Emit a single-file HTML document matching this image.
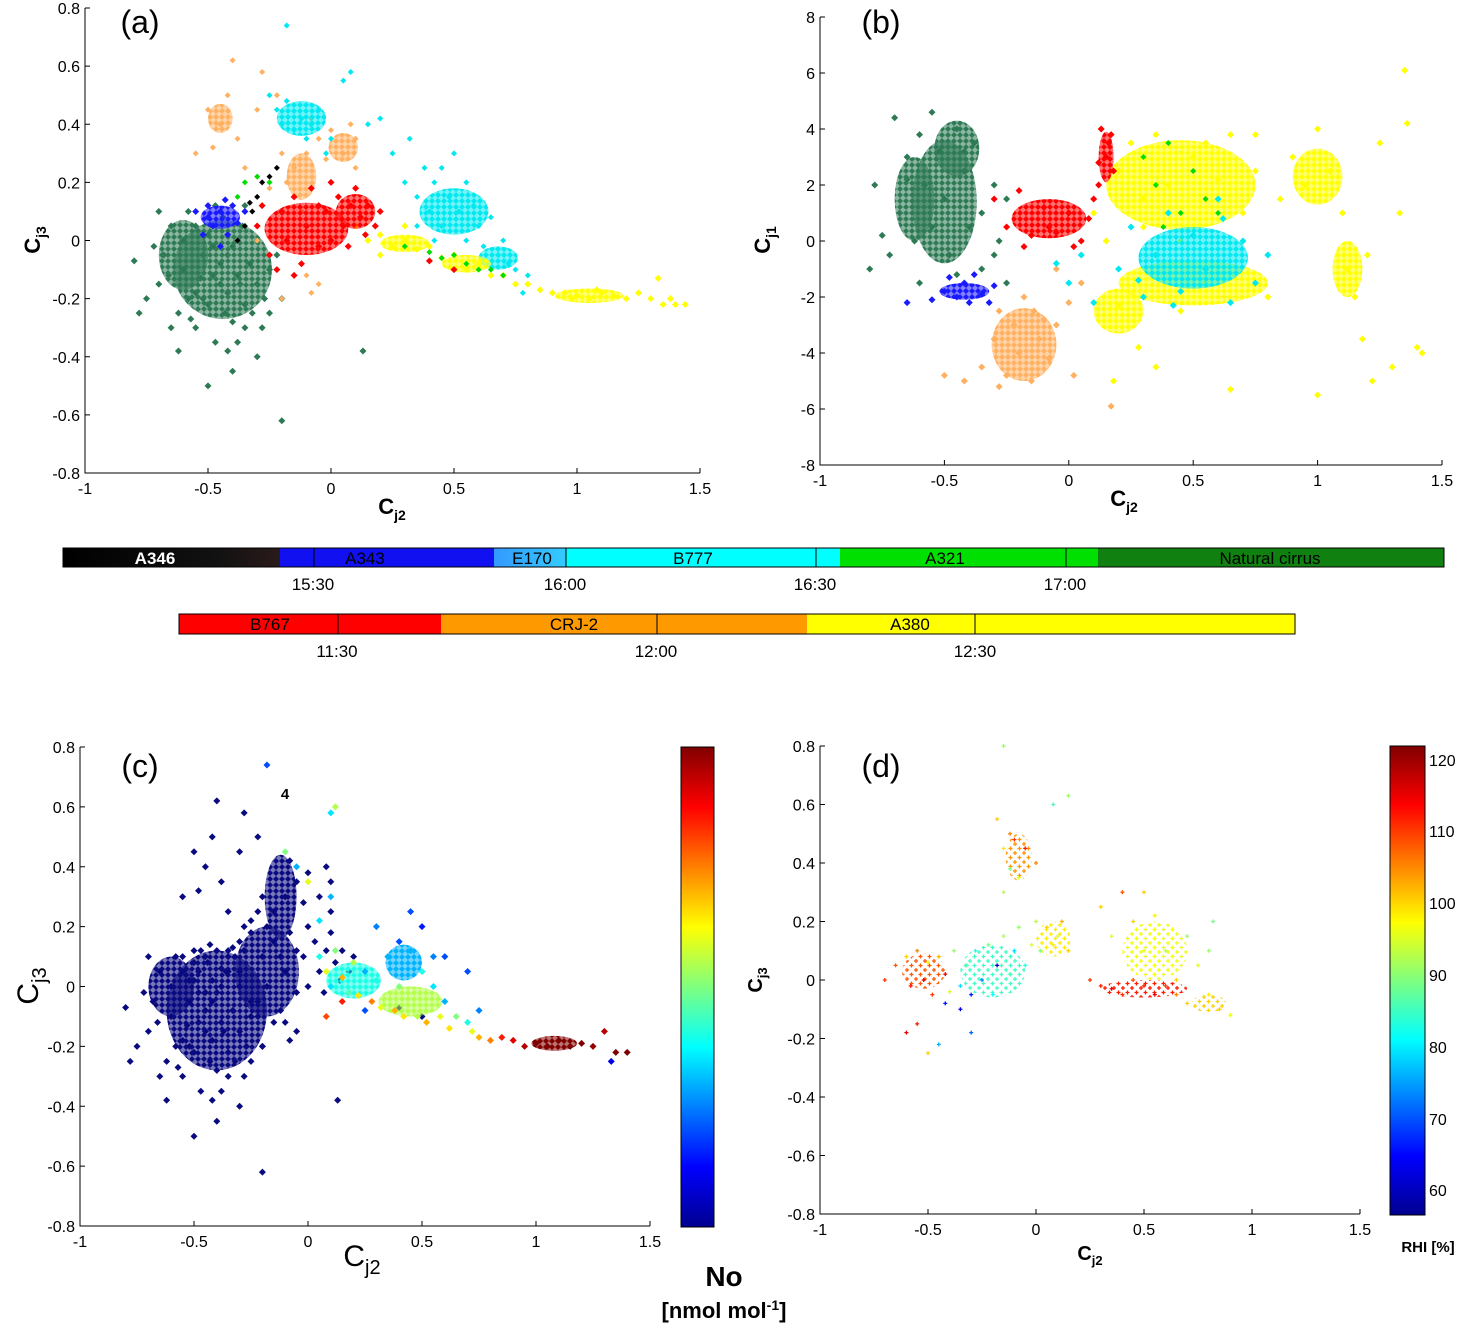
<!DOCTYPE html>
<html><head><meta charset="utf-8">
<style>
body{margin:0;background:#fff;}
svg text{font-family:"Liberation Sans",sans-serif;}
</style></head>
<body>
<svg id="root" width="1459" height="1326" viewBox="0 0 1459 1326" xmlns="http://www.w3.org/2000/svg">
<defs id="defs">
<linearGradient id="jet" x1="0" y1="1" x2="0" y2="0">
<stop offset="0" stop-color="#00008f"/><stop offset="0.125" stop-color="#0000ff"/>
<stop offset="0.375" stop-color="#00ffff"/><stop offset="0.625" stop-color="#ffff00"/>
<stop offset="0.875" stop-color="#ff0000"/><stop offset="1" stop-color="#800000"/>
</linearGradient>
<linearGradient id="g346" x1="0" x2="1"><stop offset="0" stop-color="#000"/><stop offset="0.7" stop-color="#111"/><stop offset="1" stop-color="#2a1a1a"/></linearGradient>
<linearGradient id="g170" x1="0" x2="1"><stop offset="0" stop-color="#3399ff"/><stop offset="1" stop-color="#33ccff"/></linearGradient>
</defs>
<g id="plots"></g>
<g font-size="17">
<rect x="63" y="548" width="217" height="19" fill="url(#g346)"/>
<rect x="280" y="548" width="214" height="19" fill="#1010f0"/>
<rect x="494" y="548" width="72" height="19" fill="url(#g170)"/>
<rect x="566" y="548" width="274" height="19" fill="#00ffff"/>
<rect x="840" y="548" width="258" height="19" fill="#00e000"/>
<rect x="1098" y="548" width="346" height="19" fill="#108010"/>
<rect x="63" y="548" width="1381" height="19" fill="none" stroke="#000"/>
<line x1="314" y1="548" x2="314" y2="567" stroke="#000"/><line x1="566" y1="548" x2="566" y2="567" stroke="#000"/>
<line x1="816" y1="548" x2="816" y2="567" stroke="#000"/><line x1="1066" y1="548" x2="1066" y2="567" stroke="#000"/>
<text x="155" y="564" text-anchor="middle" fill="#fff" font-weight="bold">A346</text>
<text x="365" y="564" text-anchor="middle" fill="#000">A343</text>
<text x="532" y="564" text-anchor="middle">E170</text>
<text x="693" y="564" text-anchor="middle">B777</text>
<text x="945" y="564" text-anchor="middle">A321</text>
<text x="1270" y="564" text-anchor="middle">Natural cirrus</text>
<text x="313" y="590" text-anchor="middle">15:30</text><text x="565" y="590" text-anchor="middle">16:00</text>
<text x="815" y="590" text-anchor="middle">16:30</text><text x="1065" y="590" text-anchor="middle">17:00</text>
</g>
<g font-size="17">
<rect x="179" y="614" width="262" height="20" fill="#ff0000"/>
<rect x="441" y="614" width="366" height="20" fill="#ff9900"/>
<rect x="807" y="614" width="488" height="20" fill="#ffff00"/>
<rect x="179" y="614" width="1116" height="20" fill="none" stroke="#000"/>
<line x1="338" y1="614" x2="338" y2="634" stroke="#000"/><line x1="657" y1="614" x2="657" y2="634" stroke="#000"/><line x1="975" y1="614" x2="975" y2="634" stroke="#000"/>
<text x="270" y="630" text-anchor="middle">B767</text><text x="574" y="630" text-anchor="middle">CRJ-2</text><text x="910" y="630" text-anchor="middle">A380</text>
<text x="337" y="657" text-anchor="middle">11:30</text><text x="656" y="657" text-anchor="middle">12:00</text><text x="975" y="657" text-anchor="middle">12:30</text>
</g>
<g>
<rect x="681" y="747" width="33" height="480" fill="url(#jet)" stroke="#000"/>
<text x="724" y="1286" text-anchor="middle" font-size="28" font-weight="bold">No</text>
<text x="724" y="1318" text-anchor="middle" font-size="22" font-weight="bold">[nmol mol<tspan dy="-8" font-size="14">-1</tspan><tspan dy="8">]</tspan></text>
</g>
<g font-size="16">
<rect x="1390" y="746" width="35" height="469" fill="url(#jet)" stroke="#000"/>
<text x="1429" y="766">120</text><text x="1429" y="837">110</text><text x="1429" y="909">100</text>
<text x="1429" y="981">90</text><text x="1429" y="1053">80</text><text x="1429" y="1125">70</text><text x="1429" y="1196">60</text>
<text x="1428" y="1252" text-anchor="middle" font-weight="bold" font-size="15">RHI [%]</text>
</g>
<script>
// ---------- data ----------
const xTicks=[-1,-0.5,0,0.5,1,1.5];
const xTickLabels=["-1","-0.5","0","0.5","1","1.5"];
const yTicksSmall=[0.8,0.6,0.4,0.2,0,-0.2,-0.4,-0.6,-0.8];
const yTickLabelsSmall=["0.8","0.6","0.4","0.2","0","-0.2","-0.4","-0.6","-0.8"];
const yTicksB=[8,6,4,2,0,-2,-4,-6,-8];
const yTickLabelsB=["8","6","4","2","0","-2","-4","-6","-8"];

const a_green=[[-0.8,-0.07],[-0.75,-0.2],[-0.7,-0.15],[-0.68,-0.05],[-0.65,0.05],[-0.62,-0.25],[-0.6,-0.1],[-0.58,0.1],[-0.55,-0.3],[-0.55,-0.18],[-0.52,-0.05],[-0.5,0.02],[-0.5,-0.22],[-0.48,-0.12],[-0.47,-0.35],[-0.45,-0.08],[-0.44,0.08],[-0.42,-0.18],[-0.4,-0.02],[-0.4,-0.28],[-0.38,-0.12],[-0.36,0.05],[-0.35,-0.22],[-0.33,-0.08],[-0.3,-0.15],[-0.3,0.0],[-0.28,-0.3],[-0.25,-0.1],[-0.22,-0.05],[-0.2,-0.2],[-0.62,-0.38],[-0.5,-0.5],[-0.4,-0.45],[-0.2,-0.62],[0.13,-0.38],[-0.7,0.1],[-0.65,-0.3],[-0.58,-0.2],[-0.53,-0.13],[-0.47,0.12],[-0.43,-0.25],[-0.38,-0.35],[-0.35,0.12],[-0.32,-0.25],[-0.27,-0.2],[-0.6,0.0],[-0.55,0.05],[-0.45,-0.15],[-0.42,-0.05],[-0.37,-0.15],[-0.48,-0.02],[-0.52,-0.2],[-0.42,-0.38],[-0.3,-0.4],[-0.78,-0.25],[-0.72,-0.02],[-0.66,-0.12],[-0.25,-0.25],[-0.35,-0.3],[-0.57,-0.27]];
const a_greenCores=[[-0.44,-0.1,0.2,0.17],[-0.6,-0.05,0.1,0.12]];
const a_blue=[[-0.55,0.1],[-0.5,0.12],[-0.48,0.05],[-0.45,0.1],[-0.42,0.02],[-0.4,0.12],[-0.52,0.02],[-0.45,-0.02],[-0.38,0.06],[-0.43,0.14],[-0.35,0.1],[-0.5,0.08]];
const a_blueCores=[[-0.45,0.08,0.08,0.04]];
const a_black=[[-0.35,0.05],[-0.32,0.1],[-0.3,0.15],[-0.28,0.2],[-0.25,0.22],[-0.22,0.25],[-0.38,0.0],[-0.33,0.13]];
const a_red=[[-0.3,0.05],[-0.25,-0.05],[-0.2,0.1],[-0.18,0.0],[-0.15,0.15],[-0.12,-0.08],[-0.1,0.05],[-0.08,0.18],[-0.05,-0.02],[-0.02,0.1],[0.0,0.0],[0.03,0.15],[0.05,0.05],[0.08,0.12],[0.1,0.18],[0.12,0.08],[0.15,0.12],[0.18,0.05],[0.2,0.1],[-0.22,-0.1],[-0.28,0.12],[-0.05,0.12],[0.07,-0.02],[0.14,0.02],[0.4,-0.07],[0.5,-0.1],[-0.15,-0.12],[0.0,0.2]];
const a_redCores=[[-0.1,0.04,0.17,0.09],[0.1,0.1,0.08,0.06]];
const a_orange=[[-0.5,0.45],[-0.45,0.4],[-0.48,0.32],[-0.42,0.5],[-0.38,0.35],[-0.4,0.62],[-0.55,0.3],[-0.3,0.45],[-0.35,0.25],[-0.2,0.3],[-0.18,0.2],[-0.15,0.25],[-0.1,0.3],[-0.05,0.35],[-0.02,0.28],[0.0,0.38],[0.05,0.3],[0.08,0.4],[0.1,0.25],[-0.25,0.18],[-0.12,0.1],[-0.1,-0.12],[-0.08,-0.18],[-0.05,-0.15],[-0.2,-0.2],[-0.3,0.0],[0.1,0.35],[-0.28,0.58],[-0.22,0.5],[-0.08,0.42]];
const a_orangeCores=[[-0.45,0.42,0.05,0.05],[-0.12,0.22,0.06,0.08],[0.05,0.32,0.06,0.05]];
const a_cyan=[[-0.25,0.5],[-0.22,0.45],[-0.2,0.4],[-0.18,0.48],[-0.15,0.38],[-0.12,0.42],[-0.1,0.35],[-0.08,0.4],[-0.05,0.45],[-0.02,0.3],[0.0,0.35],[0.05,0.55],[0.08,0.58],[0.15,0.4],[-0.18,0.74],[0.25,0.3],[0.3,0.2],[0.35,0.15],[0.38,0.25],[0.4,0.1],[0.42,0.2],[0.45,0.05],[0.48,0.15],[0.5,0.3],[0.52,0.1],[0.55,0.0],[0.58,0.12],[0.6,0.05],[0.62,-0.02],[0.65,0.08],[0.68,-0.05],[0.7,0.0],[0.72,-0.08],[0.75,-0.1],[0.8,-0.12],[0.45,0.25],[0.42,0.0],[0.35,0.05],[0.55,0.2],[0.32,0.35],[0.55,-0.08],[0.65,-0.12],[0.78,-0.18],[0.2,0.42]];
const a_cyanCores=[[0.5,0.1,0.14,0.08],[-0.12,0.42,0.1,0.06],[0.68,-0.06,0.08,0.04]];
const a_yellow=[[0.1,0.05],[0.15,0.0],[0.2,0.02],[0.25,-0.02],[0.3,0.0],[0.35,-0.03],[0.4,-0.02],[0.45,-0.06],[0.5,-0.05],[0.55,-0.1],[0.6,-0.08],[0.65,-0.12],[0.7,-0.12],[0.75,-0.15],[0.8,-0.15],[0.85,-0.17],[0.9,-0.18],[0.95,-0.18],[1.0,-0.19],[1.05,-0.2],[1.1,-0.18],[1.15,-0.19],[1.2,-0.2],[1.25,-0.18],[1.3,-0.2],[1.35,-0.22],[1.4,-0.22],[1.44,-0.22],[1.33,-0.13],[1.38,-0.2],[0.98,-0.2],[1.08,-0.17],[0.2,-0.05],[0.3,0.05]];
const a_yellowCores=[[1.05,-0.19,0.14,0.025],[0.3,-0.01,0.1,0.03],[0.55,-0.08,0.1,0.03]];
const a_lime=[[-0.38,0.15],[-0.35,0.2],[-0.3,0.22],[-0.25,0.2],[0.3,-0.02],[0.4,-0.04],[0.5,-0.05],[0.55,-0.08],[0.6,-0.1],[0.65,-0.1],[0.7,-0.12],[0.45,-0.06]];

const b_green=[[-0.7,4.4],[-0.65,3],[-0.68,1],[-0.72,-0.5],[-0.6,3.8],[-0.58,2],[-0.62,0],[-0.55,4.6],[-0.52,3.2],[-0.5,1.5],[-0.48,-0.5],[-0.45,4],[-0.42,2.5],[-0.4,0.5],[-0.38,3.5],[-0.35,1],[-0.35,-1],[-0.3,2],[-0.28,0],[-0.25,-1.5],[-0.78,2],[-0.75,0.2],[-0.8,-1],[-0.6,-1.5],[-0.45,-1.2],[-0.55,0.5],[-0.25,1.5],[-0.3,-0.5],[-0.65,2.2],[-0.42,3.2]];
const b_greenCores=[[-0.5,1.4,0.13,2.2],[-0.45,3.3,0.09,1.0],[-0.62,1.5,0.08,1.5]];
const b_blue=[[-0.55,-2.1],[-0.5,-1.8],[-0.45,-2.0],[-0.42,-1.5],[-0.4,-2.2],[-0.38,-1.2],[-0.35,-1.9],[-0.3,-1.6],[-0.48,-1.3],[-0.32,-2.2],[-0.65,-2.2]];
const b_blueCores=[[-0.42,-1.8,0.1,0.3]];
const b_red=[[-0.3,1.5],[-0.25,0.5],[-0.2,1.8],[-0.15,0.2],[-0.1,1.2],[-0.05,0.3],[0.0,1.0],[0.05,0.0],[0.08,0.8],[0.12,2.0],[0.15,3.0],[0.17,3.8],[0.13,4.0],[0.18,2.5],[0.1,1.5],[-0.18,-0.2],[-0.08,0.5],[0.02,-0.2],[0.16,3.5],[0.12,2.8]];
const b_redCores=[[-0.08,0.8,0.15,0.7],[0.15,3.0,0.03,0.9]];
const b_orange=[[-0.5,-4.8],[-0.42,-5],[-0.35,-4.5],[-0.3,-3.5],[-0.28,-2.5],[-0.25,-4.8],[-0.22,-3],[-0.2,-4],[-0.18,-2],[-0.15,-5],[-0.12,-3.5],[-0.1,-2.8],[-0.08,-4.2],[-0.05,-3],[0.0,-2.2],[0.02,-4.8],[-0.28,-5.2],[-0.14,-2.5],[0.05,-1.5],[-0.05,-1.0],[0.17,-5.9]];
const b_orangeCores=[[-0.18,-3.7,0.13,1.3]];
const b_yellow=[[0.1,1.0],[0.15,0],[0.2,2.5],[0.25,3.5],[0.3,1.5],[0.35,3.8],[0.4,2.0],[0.45,0],[0.5,3.0],[0.55,-1.5],[0.6,2.2],[0.65,3.8],[0.7,1.0],[0.75,2.5],[0.8,-2.0],[0.85,1.5],[0.9,3.0],[0.95,2.0],[1.0,4.0],[1.05,2.5],[1.1,1.0],[1.12,-1.0],[1.15,-2.0],[1.18,-3.5],[1.2,-0.5],[1.22,-5],[1.3,-4.5],[1.33,1.0],[1.35,6.1],[1.36,4.2],[1.4,-3.8],[1.42,-4],[1.0,-5.5],[0.65,-5.3],[0.35,-4.5],[0.28,-3.8],[0.18,-5],[0.45,-2.5],[0.2,-2.3],[0.55,3.5],[0.3,0.5],[0.75,3.8],[1.25,3.5]];
const b_yellowCores=[[0.45,2.0,0.3,1.6],[1.0,2.3,0.1,1.0],[0.2,-2.5,0.1,0.8],[0.5,-1.5,0.3,0.8],[1.12,-1.0,0.06,1.0]];
const b_cyan=[[0.0,-1.5],[0.05,-0.5],[0.1,-2.2],[0.2,-1.0],[0.25,0.5],[0.3,-2.0],[0.35,-0.5],[0.4,1.0],[0.45,-1.8],[0.5,0.2],[0.55,-1.0],[0.6,1.5],[0.65,-2.2],[0.7,0.0],[0.75,-1.5],[0.8,-0.5],[-0.05,-0.8],[0.42,-2.3],[0.62,0.8],[0.28,-1.4]];
const b_cyanCores=[[0.5,-0.6,0.22,1.1]];
const b_lime=[[0.3,3.0],[0.35,2.0],[0.4,3.5],[0.45,1.0],[0.5,2.5],[0.55,1.5],[0.38,0.5],[0.6,1.0]];

const c_navy=[...a_green,...a_blue,...a_black,...a_red,...a_orange];
const c_navyCores=[[-0.4,-0.08,0.22,0.2],[-0.18,0.05,0.14,0.15],[-0.12,0.3,0.07,0.14],[-0.6,0.0,0.1,0.1]];
// [Cj2, Cj3, No fraction 0..1]
const c_colored=[[0.05,0.1,0.4],[0.08,0.05,0.6],[0.1,0.0,0.35],[0.12,0.12,0.5],[0.15,0.03,0.7],[0.18,-0.02,0.45],[0.2,0.08,0.55],[0.22,-0.03,0.65],[0.25,0.05,0.3],[0.28,-0.05,0.75],[0.3,0.02,0.4],[0.32,-0.07,0.6],[0.35,0.1,0.3],[0.38,-0.08,0.7],[0.4,0.0,0.5],[0.42,-0.1,0.65],[0.45,0.12,0.3],[0.48,-0.1,0.55],[0.5,0.05,0.4],[0.52,-0.12,0.7],[0.55,0.0,0.35],[0.58,-0.1,0.6],[0.6,-0.05,0.3],[0.62,-0.14,0.65],[0.65,-0.1,0.5],[0.7,-0.12,0.4],[0.72,-0.15,0.6],[0.75,-0.17,0.7],[0.8,-0.18,0.75],[0.85,-0.17,0.85],[0.9,-0.18,0.9],[0.95,-0.2,0.95],[1.0,-0.19,1.0],[1.05,-0.2,1.0],[1.1,-0.18,1.0],[1.15,-0.2,1.0],[1.2,-0.19,1.0],[1.25,-0.2,0.98],[1.3,-0.15,0.95],[1.35,-0.22,1.0],[1.4,-0.22,1.0],[1.33,-0.25,0.1],[0.1,0.58,0.35],[0.12,0.6,0.55],[-0.18,0.74,0.2],[-0.1,0.45,0.5],[-0.05,0.4,0.3],[0.0,0.35,0.6],[0.05,0.22,0.35],[0.1,0.3,0.3],[0.3,0.2,0.25],[0.4,0.15,0.2],[0.45,0.25,0.2],[0.5,0.2,0.15],[0.55,0.1,0.25],[0.6,0.1,0.2],[0.7,0.05,0.2],[0.75,-0.08,0.25],[0.08,-0.1,0.8],[0.15,-0.05,0.85],[0.25,-0.08,0.2]];
const c_coloredCores=[[1.08,-0.19,0.1,0.025,1.0],[0.2,0.02,0.12,0.06,0.4],[0.45,-0.05,0.14,0.05,0.55],[0.42,0.08,0.08,0.06,0.3]];

// [Cj2, Cj3, RHI %]
const d_pts=[[-0.7,0.0,110],[-0.65,0.05,108],[-0.6,0.08,100],[-0.58,-0.02,112],[-0.55,0.1,105],[-0.52,0.0,115],[-0.5,0.06,98],[-0.48,-0.05,110],[-0.45,0.08,102],[-0.42,0.02,115],[-0.4,-0.04,95],[-0.55,-0.15,112],[-0.6,-0.18,115],[-0.5,-0.25,100],[-0.38,0.1,90],[-0.35,-0.02,78],[-0.32,0.05,85],[-0.3,-0.05,65],[-0.28,0.1,82],[-0.25,0.0,72],[-0.22,0.12,88],[-0.2,-0.05,80],[-0.18,0.05,60],[-0.15,0.15,92],[-0.12,0.02,85],[-0.1,0.1,78],[-0.08,0.18,90],[-0.05,0.05,82],[-0.02,0.12,95],[0.0,0.2,92],[0.02,0.1,88],[0.05,0.18,100],[0.08,0.12,98],[0.1,0.15,95],[0.12,0.2,102],[0.15,0.1,100],[-0.15,0.45,98],[-0.12,0.5,105],[-0.1,0.48,110],[-0.05,0.45,112],[0.0,0.4,105],[-0.08,0.35,95],[-0.15,0.3,92],[-0.18,0.55,100],[-0.12,0.38,88],[0.08,0.6,85],[0.15,0.63,90],[-0.15,0.8,90],[0.3,0.25,100],[0.35,0.15,95],[0.4,0.3,108],[0.45,0.2,100],[0.5,0.1,95],[0.55,0.22,98],[0.6,0.1,92],[0.65,0.0,100],[0.7,0.15,90],[0.75,0.05,95],[0.8,-0.05,98],[0.85,-0.1,100],[0.9,-0.12,95],[0.25,0.0,110],[0.3,-0.02,112],[0.35,-0.03,115],[0.4,-0.05,110],[0.45,0.0,108],[0.5,-0.02,112],[0.55,-0.05,115],[0.6,-0.02,110],[0.65,-0.05,105],[0.7,-0.08,100],[0.8,0.1,90],[0.82,0.2,88],[0.5,0.3,100],[-0.35,-0.1,62],[-0.42,-0.08,65],[-0.3,-0.18,70],[-0.45,-0.22,75]];
const d_cores=[[-0.2,0.03,0.15,0.09,84],[0.08,0.14,0.08,0.06,98],[0.55,0.1,0.15,0.1,96],[-0.52,0.03,0.1,0.06,108],[0.5,-0.03,0.2,0.03,112],[-0.08,0.42,0.06,0.08,104],[0.8,-0.08,0.08,0.03,100]];

// ---------- helpers ----------
const NS="http://www.w3.org/2000/svg";
const root=document.getElementById('plots');
const defs=document.getElementById('defs');
let patN=0;
function jet(t){t=Math.max(0,Math.min(1,t));
 const c=v=>Math.round(255*Math.max(0,Math.min(1,v)));
 const r=c(Math.min(4*t-1.5,-4*t+4.5)),g=c(Math.min(4*t-0.5,-4*t+3.5)),b=c(Math.min(4*t+0.5,-4*t+2.5));
 return `rgb(${r},${g},${b})`;}
function el(tag,attrs,parent){const e=document.createElementNS(NS,tag);for(const k in attrs)e.setAttribute(k,attrs[k]);parent.appendChild(e);return e;}
function pattern(color,kind){
 const id='p'+(patN++);
 const p=el('pattern',{id:id,width:kind==='plus'?9:6,height:kind==='plus'?9:6,patternUnits:'userSpaceOnUse'},defs);
 if(kind==='plus'){el('path',{d:'M0.5,2.5H4.5M2.5,0.5V4.5M5,7H9M7,5V9',stroke:color,'stroke-width':1.3},p);}
 else{el('rect',{x:0,y:0,width:6,height:6,fill:color,opacity:0.55},p);
  el('path',{d:'M0,0L3,3L0,6ZM6,0L3,3L6,6Z',fill:color},p);}
 return 'url(#'+id+')';}
function makeAxes(name,px0,px1,py0,py1,xmin,xmax,ymin,ymax,yt,ytl){
 const g=el('g',{},root);
 
 
 const sx=v=>px0+(v-xmin)/(xmax-xmin)*(px1-px0);
 const sy=v=>py1-(v-ymin)/(ymax-ymin)*(py1-py0);
 const ax=el('path',{d:`M${px0},${py0}V${py1}H${px1}`,fill:'none',stroke:'#000','stroke-width':1},g);
 
 
 xTicks.forEach((v,i)=>{const x=sx(v);el('line',{x1:x,y1:py1,x2:x,y2:py1-5,stroke:'#000'},g);
  const t=el('text',{x:x,y:py1+21,'text-anchor':'middle','font-size':16},g);t.textContent=xTickLabels[i];
  
  });
 yt.forEach((v,i)=>{const y=sy(v);el('line',{x1:px0,y1:y,x2:px0+5,y2:y,stroke:'#000'},g);
  const t=el('text',{x:px0-5,y:y+6,'text-anchor':'end','font-size':16},g);t.textContent=ytl[i];
  
  });
 return {g,sx,sy};}
function diamonds(ax,pts,color,r,name){
 const g=el('g',{fill:color},ax.g);
 
 
 pts.forEach(p=>{const x=ax.sx(p[0]),y=ax.sy(p[1]);const c=p.length>2?p[2]:null;
  const d=el('path',{d:`M${x},${y-r}L${x+r},${y}L${x},${y+r}L${x-r},${y}Z`},g);
  if(c!==null)d.setAttribute('fill',typeof c==='string'?c:jet(c));
  
  });
 return g;}
function cores(ax,list,color,name,kind){
 const g=el('g',{},ax.g);
 
 
 list.forEach(c=>{const col=c.length>4?c[4]:color;
  const e=el('ellipse',{cx:ax.sx(c[0]),cy:ax.sy(c[1]),rx:Math.abs(ax.sx(c[0]+c[2])-ax.sx(c[0])),ry:Math.abs(ax.sy(c[1]+c[3])-ax.sy(c[1])),fill:pattern(col,kind)},g);
  
  });}
function label(x,y,main,sub,size,subSize,opts,name,rot){
 const t=el('text',Object.assign({x:rot?0:x,y:rot?0:y,'font-size':size,'text-anchor':'middle'},opts||{}),root);
 if(rot)t.setAttribute('transform',`translate(${x},${y}) rotate(-90)`);
 const a=el('tspan',{},t);a.textContent=main;
 if(sub){const b=el('tspan',{'font-size':subSize,dy:Math.round(subSize*0.4)},t);b.textContent=sub;}
 
 
 return t;}
const serif={'font-family':'Liberation Serif, serif'};

// ---------- panel a ----------
const A=makeAxes('panel-a',85,700,8,473,-1,1.5,-0.8,0.8,yTicksSmall,yTickLabelsSmall);
cores(A,a_greenCores,'#2e7a55','green-cloud');
diamonds(A,a_green,'#2e7a55',3.5,'series-natural-cirrus');
cores(A,a_orangeCores,'#ffb060','orange-cloud');
diamonds(A,a_orange,'#ffb060',3,'series-crj2');
cores(A,a_cyanCores,'#00e8f0','cyan-cloud');
diamonds(A,a_cyan,'#00e8f0',3,'series-b777');
cores(A,a_yellowCores,'#ffff00','yellow-cloud');
diamonds(A,a_yellow,'#ffff00',3.5,'series-a380');
diamonds(A,a_lime,'#00dd00',3,'series-a321');
cores(A,a_blueCores,'#1a1aff','blue-cloud');
diamonds(A,a_blue,'#1a1aff',3.5,'series-a343');
diamonds(A,a_black,'#000',3,'series-a346');
cores(A,a_redCores,'#ff0000','red-cloud');
diamonds(A,a_red,'#ff0000',3.5,'series-b767');
label(140,33,'(a)','',32,0,serif,'panel-a-label');
label(392,514,'C','j2',22,14,{'font-weight':'bold'},'x-axis-title-a');
label(40,240,'C','j3',22,14,{'font-weight':'bold'},'y-axis-title-a',true);

// ---------- panel b ----------
const B=makeAxes('panel-b',820,1442,17,465,-1,1.5,-8,8,yTicksB,yTickLabelsB);
cores(B,b_greenCores,'#2e7a55','green-cloud');
diamonds(B,b_green,'#2e7a55',3.5,'series-natural-cirrus');
cores(B,b_orangeCores,'#ffb060','orange-cloud');
diamonds(B,b_orange,'#ffb060',3.5,'series-crj2');
cores(B,b_blueCores,'#1a1aff','blue-cloud');
diamonds(B,b_blue,'#1a1aff',3.5,'series-a343');
cores(B,b_yellowCores,'#ffff00','yellow-cloud');
diamonds(B,b_yellow,'#ffff00',3.5,'series-a380');
cores(B,b_cyanCores,'#00e8f0','cyan-cloud');
diamonds(B,b_cyan,'#00e8f0',3.5,'series-b777');
diamonds(B,b_lime,'#00dd00',3,'series-a321');
cores(B,b_redCores,'#ff0000','red-cloud');
diamonds(B,b_red,'#ff0000',3.5,'series-b767');
label(881,33,'(b)','',32,0,serif,'panel-b-label');
label(1124,506,'C','j2',22,14,{'font-weight':'bold'},'x-axis-title-b');
label(770,240,'C','j1',22,14,{'font-weight':'bold'},'y-axis-title-b',true);

// ---------- panel c ----------
const C=makeAxes('panel-c',80,650,747,1226,-1,1.5,-0.8,0.8,yTicksSmall,yTickLabelsSmall);
cores(C,c_navyCores,'#0a0a80','navy-cloud');
diamonds(C,c_navy,'#0a0a80',3.5,'series-low-no');
cores(C,c_coloredCores.map(c=>[c[0],c[1],c[2],c[3],jet(c[4])]),'#000','colored-cloud');
diamonds(C,c_colored,'#000',3.5,'series-no-colored');
label(140,777,'(c)','',32,0,serif,'panel-c-label');
label(285,799,'4','',15,0,{'font-weight':'bold'},'annotation-4');
label(362,1266,'C','j2',30,20,serif,'x-axis-title-c');
label(38,986,'C','j3',30,20,serif,'y-axis-title-c',true);

// ---------- panel d ----------
const D=makeAxes('panel-d',820,1360,746,1214,-1,1.5,-0.8,0.8,yTicksSmall,yTickLabelsSmall);
cores(D,d_cores.map(c=>[c[0],c[1],c[2],c[3],jet((c[4]-55)/67)]),'#000','rhi-cloud','plus');
(function(){const g=el('g',{},D.g);
 
 
 d_pts.forEach(p=>{const x=D.sx(p[0]),y=D.sy(p[1]);
  const m=el('path',{d:`M${x-2},${y}H${x+2}M${x},${y-2}V${y+2}`,stroke:jet((p[2]-55)/67),'stroke-width':1.3},g);
  
  });})();
label(881,777,'(d)','',32,0,serif,'panel-d-label');
label(1090,1260,'C','j2',20,13,{'font-weight':'bold'},'x-axis-title-d');
label(762,980,'C','j3',20,13,{'font-weight':'bold'},'y-axis-title-d',true);
</script>
</svg>
</body></html>
